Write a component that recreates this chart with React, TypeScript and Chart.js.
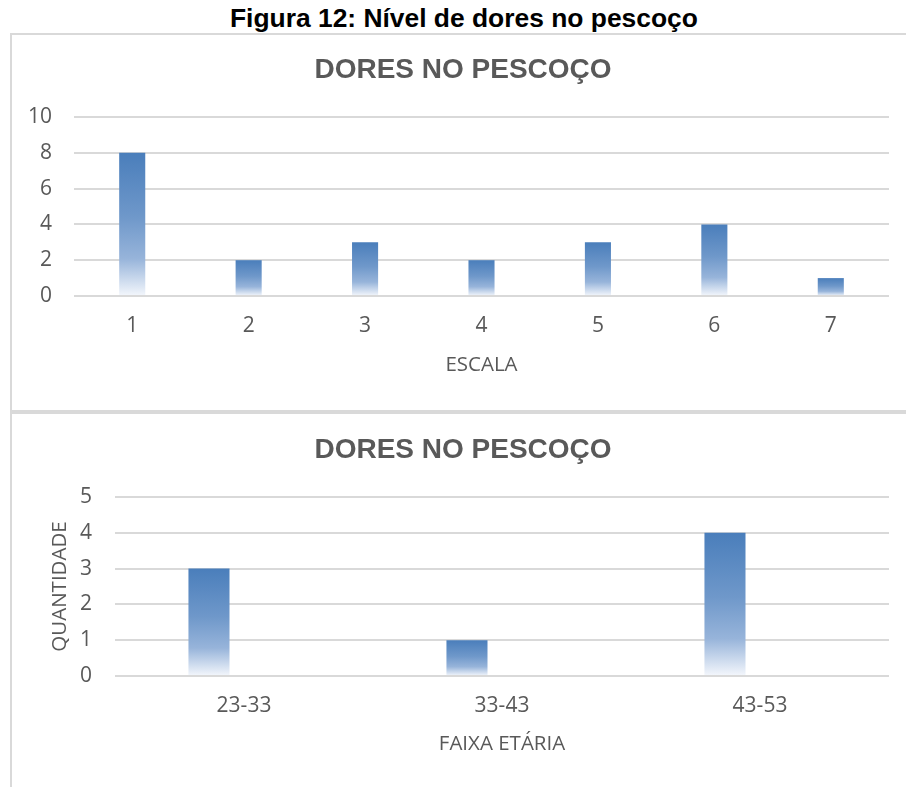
import { useEffect, useRef } from "react";
import { Chart, registerables } from "chart.js";

Chart.register(...registerables);

// Figure caption and chart titles
const figureCaption = "Figura 12: Nível de dores no pescoço";
const chartTitle = "DORES NO PESCOÇO";

// Chart 1: pain level scale
const escalaLabels = ["1", "2", "3", "4", "5", "6", "7"];
const escalaValues = [8, 2, 3, 2, 3, 4, 1];
const escalaAxisTitle = "ESCALA";

// Chart 2: age groups
const faixaLabels = ["23-33", "33-43", "43-53"];
const faixaValues = [3, 1, 4];
const faixaSerie2 = [0, 0, 0];
const faixaAxisTitle = "FAIXA ETÁRIA";
const quantidadeAxisTitle = "QUANTIDADE";

const textGray = "#595959";
const gridGray = "#d9d9d9";
const tickFont = { family: "'Open Sans', 'Noto Sans', sans-serif", size: 21 };
const axisTitleFont = { family: "'Open Sans', 'Noto Sans', sans-serif", size: 20.5 };
const headingFont = "bold 28px 'Liberation Sans', Arial, sans-serif";

// Chart heading drawn at a fixed centre inside the canvas
const headingPlugin = {
  id: "heading",
  afterDraw(chart: any, _args: any, opts: any) {
    if (!opts || !opts.text) return;
    const ctx = chart.ctx as CanvasRenderingContext2D;
    ctx.save();
    ctx.font = headingFont;
    ctx.fillStyle = opts.color || textGray;
    ctx.textAlign = "center";
    ctx.textBaseline = "middle";
    ctx.fillText(opts.text, opts.x, opts.y);
    ctx.restore();
  },
};

// Vertical gradient per bar: solid blue at the top fading to white at the base
function barFill(context: any) {
  const chart = context.chart;
  const { ctx, chartArea, scales } = chart;
  if (!chartArea || context.type !== "data") return "#4f81bd";
  const v = Number(context.raw);
  const y = scales.y;
  const top = y.getPixelForValue(v);
  const base = y.getPixelForValue(0);
  if (!(base > top)) return "#4f81bd";
  const g = ctx.createLinearGradient(0, top, 0, base);
  g.addColorStop(0, "#4a7ebb");
  g.addColorStop(0.45, "#6f98ca");
  g.addColorStop(0.74, "#97b4da");
  g.addColorStop(1, "#f4f7fc");
  return g;
}

function escalaConfig(): any {
  return {
    type: "bar",
    data: {
      labels: escalaLabels,
      datasets: [
        {
          label: "Série 1",
          data: escalaValues,
          backgroundColor: barFill,
          borderWidth: 0,
          categoryPercentage: 1,
          barPercentage: 0.224,
        },
      ],
    },
    plugins: [headingPlugin],
    options: {
      animation: false,
      responsive: false,
      maintainAspectRatio: false,
      layout: { padding: { left: 0, right: 17, top: 82, bottom: 0 } },
      plugins: {
        legend: { display: false },
        tooltip: { enabled: false },
        title: { display: false },
        heading: { text: chartTitle, color: textGray, x: 451, y: 35 },
      },
      scales: {
        x: {
          grid: { display: false, drawTicks: false },
          border: { display: false },
          ticks: { color: textGray, font: tickFont, padding: 17 },
          title: {
            display: true,
            text: escalaAxisTitle,
            color: textGray,
            font: axisTitleFont,
            padding: { top: 0, bottom: 34 },
          },
          afterFit: (s: any) => {
            s.height = 115;
          },
        },
        y: {
          min: 0,
          max: 10,
          ticks: { stepSize: 2, padding: 22, color: textGray, font: tickFont },
          grid: { color: gridGray, lineWidth: 2, drawTicks: false },
          border: { display: false },
          afterFit: (s: any) => {
            s.width = 62;
          },
        },
      },
    },
  };
}

function faixaConfig(): any {
  return {
    type: "bar",
    data: {
      labels: faixaLabels,
      datasets: [
        {
          label: "Série 1",
          data: faixaValues,
          backgroundColor: barFill,
          borderWidth: 0,
          categoryPercentage: 0.543,
          barPercentage: 0.586,
        },
        {
          label: "Série 2",
          data: faixaSerie2,
          backgroundColor: barFill,
          borderWidth: 0,
          categoryPercentage: 0.543,
          barPercentage: 0.586,
        },
      ],
    },
    plugins: [headingPlugin],
    options: {
      animation: false,
      responsive: false,
      maintainAspectRatio: false,
      layout: { padding: { left: 0, right: 17, top: 83, bottom: 0 } },
      plugins: {
        legend: { display: false },
        tooltip: { enabled: false },
        title: { display: false },
        heading: { text: chartTitle, color: textGray, x: 451, y: 36 },
      },
      scales: {
        x: {
          grid: { display: false, drawTicks: false },
          border: { display: false },
          ticks: { color: textGray, font: tickFont, padding: 17 },
          title: {
            display: true,
            text: faixaAxisTitle,
            color: textGray,
            font: axisTitleFont,
            padding: { top: 0, bottom: 30.4 },
          },
          afterFit: (s: any) => {
            s.height = 111;
          },
        },
        y: {
          min: 0,
          max: 5,
          ticks: { stepSize: 1, padding: 23, color: textGray, font: tickFont },
          grid: { color: gridGray, lineWidth: 2, drawTicks: false },
          border: { display: false },
          title: {
            display: true,
            text: quantidadeAxisTitle,
            color: textGray,
            font: axisTitleFont,
            padding: { top: 35.4, bottom: 0 },
          },
          afterFit: (s: any) => {
            s.width = 103;
          },
        },
      },
    },
  };
}

export default function App() {
  const escalaRef = useRef<HTMLCanvasElement>(null);
  const faixaRef = useRef<HTMLCanvasElement>(null);

  useEffect(() => {
    const c1 = new Chart(escalaRef.current!, escalaConfig());
    const c2 = new Chart(faixaRef.current!, faixaConfig());
    return () => {
      c1.destroy();
      c2.destroy();
    };
  }, []);

  return (
    <div
      style={{
        position: "absolute",
        left: 0,
        top: 0,
        width: 906,
        height: 787,
        overflow: "hidden",
        background: "#ffffff",
      }}
    >
      <div
        style={{
          position: "absolute",
          left: 230,
          top: 3,
          whiteSpace: "nowrap",
          fontFamily: "'Liberation Sans', Arial, sans-serif",
          fontWeight: "bold",
          fontSize: 26.4,
          lineHeight: "30px",
          color: "#000000",
        }}
      >
        {figureCaption}
      </div>
      <div
        style={{
          position: "absolute",
          left: 10,
          top: 33,
          width: 940,
          height: 375,
          border: `2px solid ${gridGray}`,
        }}
      />
      <div
        style={{
          position: "absolute",
          left: 10,
          top: 412,
          width: 940,
          height: 400,
          border: `2px solid ${gridGray}`,
        }}
      />
      <canvas
        ref={escalaRef}
        width={894}
        height={376}
        style={{ position: "absolute", left: 12, top: 35, width: 894, height: 376 }}
      />
      <canvas
        ref={faixaRef}
        width={894}
        height={373}
        style={{ position: "absolute", left: 12, top: 414, width: 894, height: 373 }}
      />
    </div>
  );
}
